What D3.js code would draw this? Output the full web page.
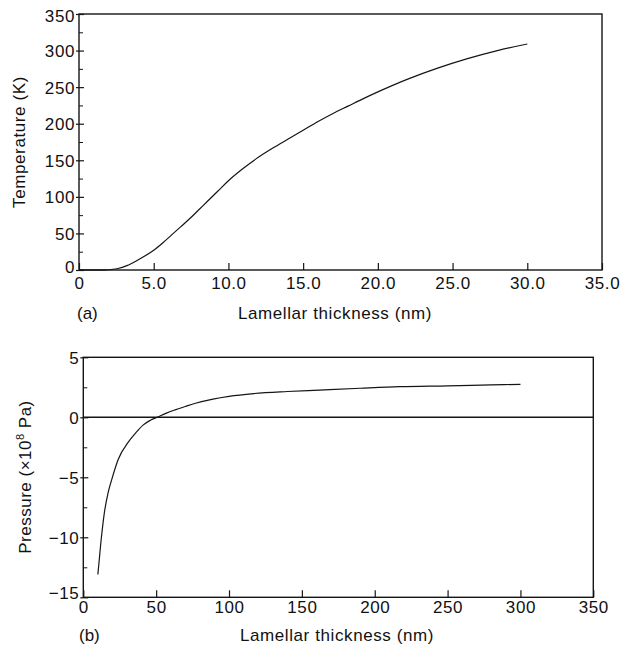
<!DOCTYPE html>
<html>
<head>
<meta charset="utf-8">
<script src="https://cdn.jsdelivr.net/npm/d3@7"></script>
<style>
  html, body { margin: 0; padding: 0; background: #fff; }
  svg { display: block; }
  text { font-family: "Liberation Sans", Arial, Helvetica, sans-serif; fill: #111; }
</style>
</head>
<body>
<svg id="chart" width="632" height="648"></svg>
<script>
// ---- Data: panel (a) temperature vs lamellar thickness ----
const thicknessA = [1.8, 2.6, 3.2, 3.8, 4.4, 5.0, 5.6, 6.2, 6.8, 7.4, 8.0, 8.6, 9.3, 10.0, 11.0, 12.0, 13.0, 14.0, 15.0, 16.0, 17.0, 18.0, 19.0, 20.0, 22.0, 24.0, 26.0, 28.0, 30.0];
const temperature = [0, 2, 6, 12, 19, 27, 37, 48, 59, 70, 82, 94, 108, 122, 139, 154, 167, 179, 191, 203, 214, 224, 234, 243.5, 261, 276, 289, 300, 309];
const xTicksA = [0, 5, 10, 15, 20, 25, 30, 35];
const xTickLabelsA = ["0", "5.0", "10.0", "15.0", "20.0", "25.0", "30.0", "35.0"];
const yTicksA = [0, 50, 100, 150, 200, 250, 300, 350];
const yMinorA = [25, 75, 125, 175, 225, 275, 325];

// ---- Data: panel (b) pressure vs lamellar thickness ----
const thicknessB = [10, 12, 14.4, 17, 19.5, 24, 31, 36, 41, 46, 51.5, 57, 63, 70, 77, 89, 100, 117, 140, 162, 190, 217, 250, 280, 300];
const pressure = [-13.1, -10.5, -8.0, -6.3, -5.2, -3.5, -2.05, -1.3, -0.65, -0.25, 0.05, 0.35, 0.62, 0.9, 1.17, 1.52, 1.75, 1.98, 2.15, 2.27, 2.42, 2.55, 2.62, 2.7, 2.75];
const xTicksB = [0, 50, 100, 150, 200, 250, 300, 350];
const yTicksB = [5, 0, -5, -10, -15];
const yTickLabelsB = ["5", "0", "\u22125", "\u221210", "\u221215"];
const yMinorB = [2.5, -2.5, -7.5, -12.5];

const svg = d3.select("#chart");
const ink = "#151515";

function panel(opts) {
  const g = svg.append("g");
  const x = d3.scaleLinear().domain(opts.xDomain).range([opts.left, opts.right]);
  const y = d3.scaleLinear().domain(opts.yDomain).range([opts.bottom, opts.top]);

  g.append("rect")
    .attr("x", opts.left).attr("y", opts.top)
    .attr("width", opts.right - opts.left).attr("height", opts.bottom - opts.top)
    .attr("fill", "none").attr("stroke", ink).attr("stroke-width", 1.4);

  const xAxis = d3.axisBottom(x).tickValues(opts.xTicks).tickSize(-7).tickPadding(0)
    .tickFormat((d, i) => opts.xLabels[i]);
  const gx = g.append("g").attr("transform", `translate(0,${opts.bottom})`).call(xAxis);
  gx.select(".domain").remove();
  gx.selectAll("line").attr("stroke", ink).attr("stroke-width", 1.2);
  gx.selectAll("text").attr("dy", null).attr("y", opts.xLabelDy)
    .attr("font-size", 17).attr("letter-spacing", 0.6).attr("fill", ink)
    .style("font-family", '"Liberation Sans", Arial, sans-serif');

  const yAxis = d3.axisLeft(y).tickValues(opts.yTicks).tickSize(0).tickPadding(0)
    .tickFormat((d, i) => opts.yLabels[i]);
  const gy = g.append("g").attr("transform", `translate(${opts.left},0)`).call(yAxis);
  gy.select(".domain").remove();
  gy.selectAll(".tick line").attr("x1", -3).attr("x2", 5).attr("stroke", ink).attr("stroke-width", 1.2);
  gy.selectAll("text").attr("dy", null).attr("x", -4)
    .attr("y", d => opts.yLabelDy(d))
    .attr("font-size", 17).attr("letter-spacing", 0.6).attr("fill", ink)
    .style("font-family", '"Liberation Sans", Arial, sans-serif');

  const ym = d3.axisLeft(y).tickValues(opts.yMinor).tickSize(0).tickFormat("");
  const gym = g.append("g").attr("transform", `translate(${opts.left},0)`).call(ym);
  gym.select(".domain").remove();
  gym.selectAll(".tick line").attr("x1", 0).attr("x2", 4).attr("stroke", ink).attr("stroke-width", 1);

  return { g, x, y };
}

// ---------- Panel (a) ----------
const A = panel({
  left: 79, right: 602, top: 14, bottom: 270,
  xDomain: [0, 35], yDomain: [0, 350],
  xTicks: xTicksA, xLabels: xTickLabelsA,
  yTicks: yTicksA, yLabels: yTicksA.map(String), yMinor: yMinorA,
  xLabelDy: 19,
  yLabelDy: d => d === 0 ? 2 : (d === 350 ? 7.5 : 6)
});
A.g.append("path")
  .datum(thicknessA.map((t, i) => [t, temperature[i]]))
  .attr("fill", "none").attr("stroke", ink).attr("stroke-width", 1.2)
  .attr("d", d3.line().x(d => A.x(d[0])).y(d => A.y(d[1])).curve(d3.curveMonotoneX));

A.g.append("line")
  .attr("x1", A.x(0)).attr("x2", A.x(thicknessA[0]))
  .attr("y1", A.y(0)).attr("y2", A.y(0))
  .attr("stroke", ink).attr("stroke-width", 1.4);

svg.append("text").attr("x", 335).attr("y", 319).attr("text-anchor", "middle")
  .attr("font-size", 17).attr("letter-spacing", 0.6).text("Lamellar thickness (nm)");
svg.append("text").attr("x", 77).attr("y", 319)
  .attr("font-size", 17).text("(a)");
svg.append("text")
  .attr("transform", "translate(25,142) rotate(-90)")
  .attr("text-anchor", "middle")
  .attr("font-size", 17).attr("letter-spacing", 0.6).text("Temperature (K)");

// ---------- Panel (b) ----------
const B = panel({
  left: 83.3, right: 593.3, top: 357.3, bottom: 597.3,
  xDomain: [0, 350], yDomain: [-15, 5],
  xTicks: xTicksB, xLabels: xTicksB.map(String),
  yTicks: yTicksB, yLabels: yTickLabelsB, yMinor: yMinorB,
  xLabelDy: 16,
  yLabelDy: d => d === -15 ? 1.5 : 6
});
B.g.append("line")
  .attr("x1", B.x(0)).attr("x2", B.x(350))
  .attr("y1", B.y(0)).attr("y2", B.y(0))
  .attr("stroke", ink).attr("stroke-width", 1.5);
B.g.append("path")
  .datum(thicknessB.map((t, i) => [t, pressure[i]]))
  .attr("fill", "none").attr("stroke", ink).attr("stroke-width", 1.2)
  .attr("d", d3.line().x(d => B.x(d[0])).y(d => B.y(d[1])).curve(d3.curveMonotoneX));

svg.append("text").attr("x", 337).attr("y", 641).attr("text-anchor", "middle")
  .attr("font-size", 17).attr("letter-spacing", 0.6).text("Lamellar thickness (nm)");
svg.append("text").attr("x", 79).attr("y", 641)
  .attr("font-size", 17).text("(b)");
const pl = svg.append("text")
  .attr("transform", "translate(31,477) rotate(-90)")
  .attr("text-anchor", "middle")
  .attr("font-size", 17).attr("letter-spacing", 0.5);
pl.append("tspan").text("Pressure (\u00d710");
pl.append("tspan").attr("font-size", 11).attr("dy", -7).text("8");
pl.append("tspan").attr("dy", 7).text(" Pa)");
</script>
</body>
</html>
